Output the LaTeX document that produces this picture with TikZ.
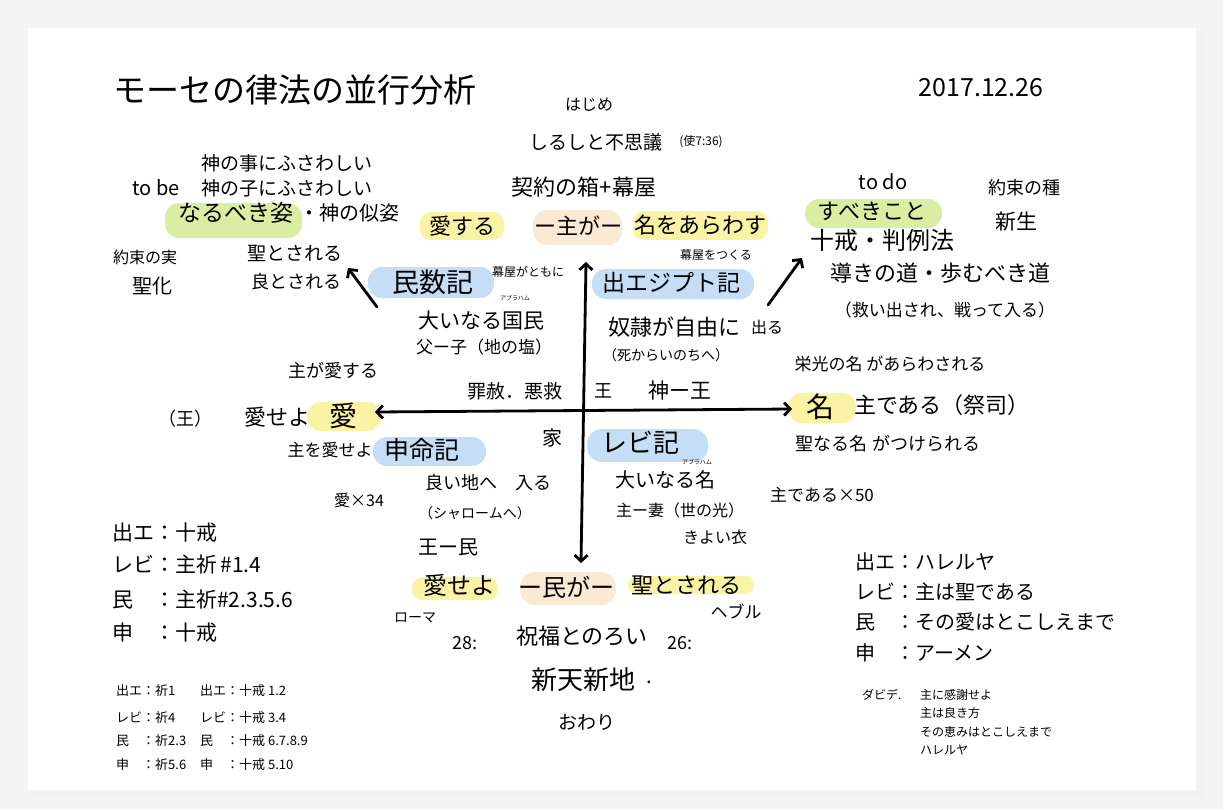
\documentclass[tikz,border=0pt]{standalone}
\usepackage{fontspec}
\setmainfont{Noto Sans CJK JP}
\usetikzlibrary{arrows.meta}
\definecolor{hlY}{HTML}{FAF3A3}
\definecolor{hlG}{HTML}{D9EEA2}
\definecolor{hlB}{HTML}{C5DEF6}
\definecolor{hlO}{HTML}{FBEAD3}
\definecolor{pagebg}{HTML}{F4F4F4}
\tikzset{
  lbl/.style={inner sep=0pt,anchor=center,font=\fontsize{#1}{#1}\selectfont},
  lblw/.style={inner sep=0pt,anchor=west,font=\fontsize{#1}{#1}\selectfont},
  arr/.style={line width=2.8pt,line cap=round,-{Straight Barb[length=6pt,width=13pt]}},
  axis/.style={line width=2.8pt,{Straight Barb[length=6pt,width=13pt]}-{Straight Barb[length=6pt,width=13pt]}},
}
\begin{document}
\begin{tikzpicture}[x=1pt,y=-1pt]
\useasboundingbox (0,0) rectangle (1223,809);
% page and card
\fill[pagebg] (0,0) rectangle (1223,809);
\fill[black!9] (33,33) rectangle (1200,795);
\fill[black!5] (31,31) rectangle (1203,798);
\fill[white] (28,28) rectangle (1196,790);

% highlights
\fill[hlY,rounded corners=11pt] (420,212) rectangle (504,240);
\fill[hlO,rounded corners=14pt] (533,210) rectangle (622,245);
\fill[hlY,rounded corners=11pt] (633,211) rectangle (768,240);
\fill[hlG,rounded corners=14pt] (165,203) rectangle (302,238);
\fill[hlG,rounded corners=14pt] (805,199) rectangle (942,228);
\fill[hlB,rounded corners=14pt] (368,267) rectangle (494,298);
\fill[hlB,rounded corners=14pt] (592,269) rectangle (754,299);
\fill[hlY,rounded corners=14pt] (307,402) rectangle (381,431);
\fill[hlB,rounded corners=14pt] (373,437) rectangle (486,466);
\fill[hlY,rounded corners=14pt] (788,393) rectangle (856,423);
\fill[hlB,rounded corners=15pt] (587,429) rectangle (708,462);
\fill[hlY,rounded corners=11pt] (412,577) rectangle (498,600);
\fill[hlO,rounded corners=15pt] (520,572) rectangle (616,605);
\fill[hlY,rounded corners=9pt] (628,576) rectangle (754,594);

% title and date
\node[lbl=33] (title) at (295,90) {モーセの律法の並行分析};
\node[lbl=25] (date) at (981,88) {2017.12.26};

% top centre
\node[lbl=16] (hajime) at (589,105) {はじめ};
\node[lbl=19] (shirushi) at (596,142) {しるしと不思議};
\node[lbl=12] (shito) at (701,142) {(使7:36)};
\node[lbl=22] (hako) at (584,187) {契約の箱+幕屋};
\node[lbl=22] (aisuru) at (462,226) {愛する};
\node[lbl=22] (shuga) at (578,226) {ー主がー};
\node[lbl=22] (nawo) at (700,225) {名をあらわす};
\node[lbl=12] (makuyatsukuru) at (716,255) {幕屋をつくる};

% upper left
\node[lbl=20] (tobe) at (156,188) {to be};
\node[lbl=19] (kaminokoto) at (287,163) {神の事にふさわしい};
\node[lbl=19] (kaminoko) at (287,188) {神の子にふさわしい};
\node[lbl=23] (narubeki) at (236,213) {なるべき姿};
\node[lbl=20] (nisugata) at (349,213) {・神の似姿};
\node[lbl=19] (seito) at (295,253) {聖とされる};
\node[lbl=18] (ryoto) at (296,282) {良とされる};
\node[lbl=16] (yakusokumi) at (145,257) {約束の実};
\node[lbl=20] (seika) at (152,286) {聖化};

% upper right
\node[lbl=20] (todo) at (883,182) {to do};
\node[lbl=22] (subeki) at (872,211) {すべきこと};
\node[lbl=24] (jukai) at (882,240) {十戒・判例法};
\node[lbl=22] (michi) at (940,273) {導きの道・歩むべき道};
\node[lbl=17] (sukui) at (945,310) {（救い出され、戦って入る）};
\node[lbl=18] (yakusokutane) at (1024,188) {約束の種};
\node[lbl=21] (shinsei) at (1016,222) {新生};

% numbers quadrant
\node[lbl=27] (minsu) at (433,282) {民数記};
\node[lbl=12] (makuyatomo) at (528,272) {幕屋がともに};
\node[lbl=6] (ruby1) at (515,298) {アブラハム};
\node[lbl=21] (kokumin) at (481,321) {大いなる国民};
\node[lbl=17] (fushi) at (484,347) {父ー子（地の塩）};
\node[lbl=19] (tsumi) at (515,391) {罪赦．悪救};

% exodus quadrant
\node[lbl=23] (shutsu) at (671,283) {出エジプト記};
\node[lbl=22] (dorei) at (674,327) {奴隷が自由に};
\node[lbl=16] (deru) at (767,327) {出る};
\node[lbl=14] (shikara) at (666,355) {（死からいのちへ）};
\node[lbl=18] (ou) at (603,391) {王};
\node[lbl=21] (kamiou) at (680,391) {神ー王};

% right
\node[lbl=17] (eiko) at (890,364) {栄光の名 があらわされる};
\node[lbl=28] (na) at (820,407) {名};
\node[lbl=22] (shudearu) at (942,405) {主である（祭司）};
\node[lbl=18] (seinaru) at (888,444) {聖なる名 がつけられる};
\node[lbl=17] (x50) at (822,495) {主である×50};

% leviticus quadrant
\node[lbl=26] (rebi) at (640,443) {レビ記};
\node[lbl=6] (ruby2) at (697,462) {アブラハム};
\node[lbl=20] (ooinaru) at (665,480) {大いなる名};
\node[lbl=16] (shutsuma) at (680,510) {主ー妻（世の光）};
\node[lbl=16] (kiyoi) at (715,537) {きよい衣};

% left
\node[lbl=18] (shugaaisuru) at (333,371) {主が愛する};
\node[lbl=18] (ouk) at (185,419) {（王）};
\node[lbl=22] (aiseyo) at (277,417) {愛せよ};
\node[lbl=28] (ai) at (343,416) {愛};
\node[lbl=17] (shuwoaiseyo) at (330,450) {主を愛せよ};
\node[lbl=16] (x34) at (359,500) {愛×34};

% deuteronomy quadrant
\node[lbl=25] (shinmei) at (422,450) {申命記};
\node[lbl=20] (ie) at (552,438) {家};
\node[lbl=18] (yoichi) at (488,483) {良い地へ　入る};
\node[lbl=14] (shalom) at (475,513) {（シャロームへ）};
\node[lbl=20] (oumin) at (448,547) {王ー民};

% bottom
\node[lbl=24] (aiseyo2) at (459,585) {愛せよ};
\node[lbl=24] (minga) at (566,587) {ー民がー};
\node[lbl=22] (seito2) at (686,585) {聖とされる};
\node[lbl=14] (roma) at (415,618) {ローマ};
\node[lbl=17] (heburu) at (736,612) {ヘブル};
\node[lbl=18] (n28) at (465,643) {28:};
\node[lbl=22] (shukufuku) at (582,636) {祝福とのろい};
\node[lbl=18] (n26) at (680,643) {26:};
\node[lbl=26] (shinten) at (583,680) {新天新地};
\node[lbl=20] (dot) at (649,682) {.};
\node[lbl=19] (owari) at (587,722) {おわり};

% bottom-left lists
\node[lblw=21] (l1) at (112,533) {出エ：十戒};
\node[lblw=21] (l2) at (112,565) {レビ：主祈\,\#1.4};
\node[lblw=21] (l3) at (112,600) {民　：主祈\#2.3.5.6};
\node[lblw=21] (l4) at (112,633) {申　：十戒};
\node[lblw=13] (s1) at (116,691) {出エ：祈1};
\node[lblw=13] (s2) at (116,718) {レビ：祈4};
\node[lblw=13] (s3) at (116,741) {民　：祈2.3};
\node[lblw=13] (s4) at (116,765) {申　：祈5.6};
\node[lblw=13] (t1) at (200,691) {出エ：十戒 1.2};
\node[lblw=13] (t2) at (200,718) {レビ：十戒 3.4};
\node[lblw=13] (t3) at (200,741) {民　：十戒 6.7.8.9};
\node[lblw=13] (t4) at (200,765) {申　：十戒 5.10};

% bottom-right lists
\node[lblw=20] (r1) at (855,562) {出エ：ハレルヤ};
\node[lblw=20] (r2) at (855,592) {レビ：主は聖である};
\node[lblw=20] (r3) at (855,622) {民　：その愛はとこしえまで};
\node[lblw=20] (r4) at (855,653) {申　：アーメン};
\node[lblw=12] (dv) at (862,695) {ダビデ.};
\node[lblw=12] (d1) at (920,695) {主に感謝せよ};
\node[lblw=12] (d2) at (920,713) {主は良き方};
\node[lblw=12] (d3) at (920,732) {その恵みはとこしえまで};
\node[lblw=12] (d4) at (920,750) {ハレルヤ};

% axes and arrows
\coordinate (axN) at (586,262);
\coordinate (axS) at (581,563);
\coordinate (axW) at (375,412);
\coordinate (axE) at (792,409);
\draw[axis] (axN) -- (axS);
\draw[axis] (axW) -- (axE);
\coordinate (dl0) at (377,307);
\coordinate (dl1) at (348,268);
\coordinate (dr0) at (768,305);
\coordinate (dr1) at (802,258);
\draw[arr] (dl0) -- (dl1);
\draw[arr] (dr0) -- (dr1);
\end{tikzpicture}
\end{document}
